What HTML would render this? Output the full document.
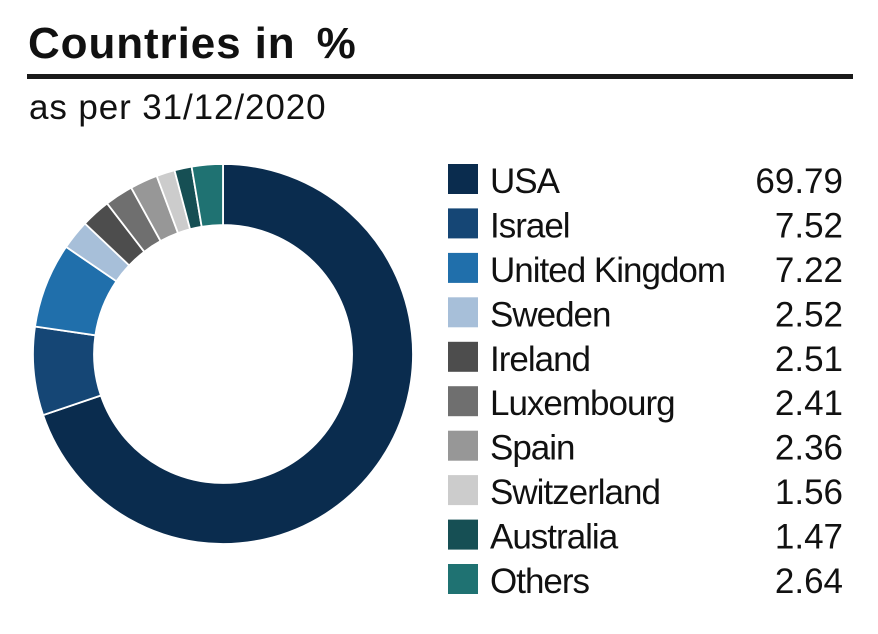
<!DOCTYPE html>
<html>
<head>
<meta charset="utf-8">
<style>
  html, body { margin:0; padding:0; background:#ffffff; }
  body { width:878px; height:634px; overflow:hidden; }
  svg { display:block; }
  text { font-family: "Liberation Sans", "DejaVu Sans", sans-serif; fill:#111111; }
</style>
</head>
<body>
<svg width="878" height="634" viewBox="0 0 878 634" xmlns="http://www.w3.org/2000/svg">
  <!-- Title -->
  <text x="28" y="58" font-size="44" font-weight="bold" letter-spacing="0.9" fill="#1a1a1a" xml:space="preserve">Countries in <tspan dx="8">%</tspan></text>
  <rect x="27" y="74" width="826" height="5" fill="#1a1a1a"/>
  <text x="29" y="119" font-size="35" letter-spacing="0.9">as per 31/12/2020</text>

  <!-- Donut -->
  <g stroke="#ffffff" stroke-width="1.8" stroke-linejoin="miter">
    <path d="M223,164 A190,190 0 1 1 43.1,415.1 L100.9,395.5 A129,129 0 1 0 223,225 Z" fill="#0a2c4e"/>
    <path d="M43.1,415.1 A190,190 0 0 1 35.0,326.5 L95.4,335.3 A129,129 0 0 0 100.9,395.5 Z" fill="#154675"/>
    <path d="M35.0,326.5 A190,190 0 0 1 66.1,246.9 L116.4,281.3 A129,129 0 0 0 95.4,335.3 Z" fill="#206fab"/>
    <path d="M66.1,246.9 A190,190 0 0 1 84.9,223.5 L129.2,265.4 A129,129 0 0 0 116.4,281.3 Z" fill="#a7bfd9"/>
    <path d="M84.9,223.5 A190,190 0 0 1 107.1,203.4 L144.3,251.8 A129,129 0 0 0 129.2,265.4 Z" fill="#4d4d4d"/>
    <path d="M107.1,203.4 A190,190 0 0 1 131.2,187.7 L160.6,241.1 A129,129 0 0 0 144.3,251.8 Z" fill="#6f6f6f"/>
    <path d="M131.2,187.7 A190,190 0 0 1 156.7,175.9 L178.0,233.1 A129,129 0 0 0 160.6,241.1 Z" fill="#979797"/>
    <path d="M156.7,175.9 A190,190 0 0 1 174.5,170.3 L190.1,229.3 A129,129 0 0 0 178.0,233.1 Z" fill="#cccccc"/>
    <path d="M174.5,170.3 A190,190 0 0 1 191.6,166.6 L201.7,226.8 A129,129 0 0 0 190.1,229.3 Z" fill="#164f54"/>
    <path d="M191.6,166.6 A190,190 0 0 1 223,164 L223,225 A129,129 0 0 0 201.7,226.8 Z" fill="#1f7272"/>
  </g>

  <!-- Legend -->
  <g>
    <rect x="448" y="164" width="30" height="30" fill="#0a2c4e"/>
    <rect x="448" y="208.4" width="30" height="30" fill="#154675"/>
    <rect x="448" y="252.9" width="30" height="30" fill="#206fab"/>
    <rect x="448" y="297.3" width="30" height="30" fill="#a7bfd9"/>
    <rect x="448" y="341.8" width="30" height="30" fill="#4d4d4d"/>
    <rect x="448" y="386.2" width="30" height="30" fill="#6f6f6f"/>
    <rect x="448" y="430.7" width="30" height="30" fill="#979797"/>
    <rect x="448" y="475.1" width="30" height="30" fill="#cccccc"/>
    <rect x="448" y="519.6" width="30" height="30" fill="#164f54"/>
    <rect x="448" y="564" width="30" height="30" fill="#1f7272"/>
  </g>
  <g font-size="35" letter-spacing="-1">
    <text x="490" y="193">USA</text>
    <text x="490" y="237.4">Israel</text>
    <text x="490" y="281.9">United Kingdom</text>
    <text x="490" y="326.3">Sweden</text>
    <text x="490" y="370.8">Ireland</text>
    <text x="490" y="415.2">Luxembourg</text>
    <text x="490" y="459.7">Spain</text>
    <text x="490" y="504.1">Switzerland</text>
    <text x="490" y="548.6">Australia</text>
    <text x="490" y="593">Others</text>
  </g>
  <g font-size="35" text-anchor="end">
    <text x="843" y="193">69.79</text>
    <text x="843" y="237.4">7.52</text>
    <text x="843" y="281.9">7.22</text>
    <text x="843" y="326.3">2.52</text>
    <text x="843" y="370.8">2.51</text>
    <text x="843" y="415.2">2.41</text>
    <text x="843" y="459.7">2.36</text>
    <text x="843" y="504.1">1.56</text>
    <text x="843" y="548.6">1.47</text>
    <text x="843" y="593">2.64</text>
  </g>
</svg>
</body>
</html>
